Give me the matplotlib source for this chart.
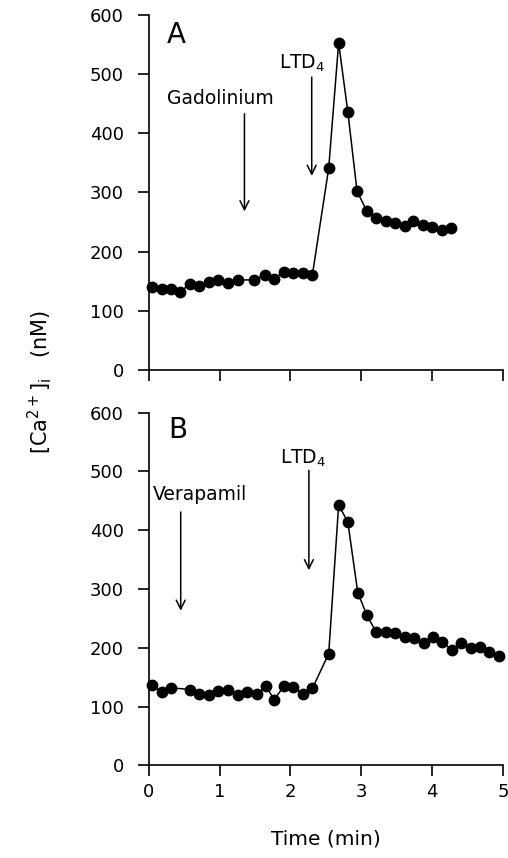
import matplotlib
matplotlib.use("Agg")
import matplotlib.pyplot as plt

# Panel A: gadolinium, then LTD4
time_a = [0.04, 0.18, 0.31, 0.44, 0.58, 0.71, 0.85, 0.98, 1.12, 1.26, 1.49, 1.64,
          1.77, 1.91, 2.04, 2.17, 2.31, 2.54, 2.68, 2.81, 2.94, 3.08, 3.21, 3.35,
          3.48, 3.62, 3.73, 3.87, 4.00, 4.14, 4.27]
ca_a = [140, 137, 137, 132, 145, 141, 148, 152, 146, 152, 152, 161,
        154, 166, 164, 163, 161, 341, 553, 436, 302, 268, 256, 251,
        248, 244, 251, 245, 242, 237, 240]

# Panel B: verapamil, then LTD4
time_b = [0.04, 0.18, 0.31, 0.58, 0.71, 0.85, 0.98, 1.12, 1.26, 1.39, 1.53, 1.65,
          1.77, 1.91, 2.04, 2.17, 2.31, 2.54, 2.68, 2.81, 2.95, 3.08, 3.21, 3.35,
          3.48, 3.62, 3.75, 3.88, 4.01, 4.14, 4.28, 4.41, 4.55, 4.68, 4.81, 4.94]
ca_b = [136, 125, 132, 129, 122, 119, 126, 128, 119, 124, 121, 135,
        112, 135, 133, 122, 131, 190, 443, 414, 294, 255, 227, 227,
        225, 218, 216, 209, 218, 210, 196, 208, 199, 201, 193, 186]

y_ticks = [0, 100, 200, 300, 400, 500, 600]
x_ticks = [0, 1, 2, 3, 4, 5]

plt.rcParams["font.family"] = "DejaVu Sans"

fig = plt.figure(figsize=(5.08, 8.58), dpi=100)
ax_a = fig.add_axes([0.293, 0.569, 0.697, 0.4135])
ax_b = fig.add_axes([0.293, 0.108, 0.697, 0.411])


def style(ax, t, c, show_xlabels):
    ax.plot(t, c, color="black", lw=1.1, marker="o", ms=7.5,
            markerfacecolor="black", markeredgecolor="black", clip_on=False)
    ax.set_xlim(0, 5)
    ax.set_ylim(0, 600)
    ax.set_xticks(x_ticks)
    ax.set_yticks(y_ticks)
    for s in ["top", "right"]:
        ax.spines[s].set_visible(False)
    for s in ["left", "bottom"]:
        ax.spines[s].set_linewidth(1.2)
    ax.tick_params(direction="out", length=8, width=1.2, labelsize=13)
    ax.tick_params(axis="y", pad=10)
    ax.tick_params(axis="x", pad=5)
    if not show_xlabels:
        ax.set_xticklabels([])


def arrow(ax, x, y_top, y_bottom):
    ax.annotate("", xy=(x, y_bottom), xytext=(x, y_top),
                arrowprops=dict(arrowstyle="->", lw=1.1, color="black",
                                mutation_scale=16, shrinkA=0, shrinkB=0))


style(ax_a, time_a, ca_a, False)
style(ax_b, time_b, ca_b, True)

# panel A annotations
ax_a.text(0.26, 566, "A", fontsize=20, va="center", ha="left")
ax_a.text(0.26, 458, "Gadolinium", fontsize=13.5, va="center", ha="left")
arrow(ax_a, 1.35, 433, 268)
ax_a.text(1.84, 518, r"LTD$_4$", fontsize=13.5, va="center", ha="left")
arrow(ax_a, 2.30, 495, 328)

# panel B annotations
ax_b.text(0.28, 570, "B", fontsize=20, va="center", ha="left")
ax_b.text(0.05, 460, "Verapamil", fontsize=13.5, va="center", ha="left")
arrow(ax_b, 0.45, 431, 263)
ax_b.text(1.85, 522, r"LTD$_4$", fontsize=13.5, va="center", ha="left")
arrow(ax_b, 2.26, 502, 332)

ax_b.set_xlabel("Time (min)", fontsize=14.5, labelpad=20)
fig.text(0.078, 0.555, r"[Ca$^{2+}$]$_\mathrm{i}$   (nM)", rotation=90,
         fontsize=15, ha="center", va="center")

fig.savefig("out.png", dpi=100)
